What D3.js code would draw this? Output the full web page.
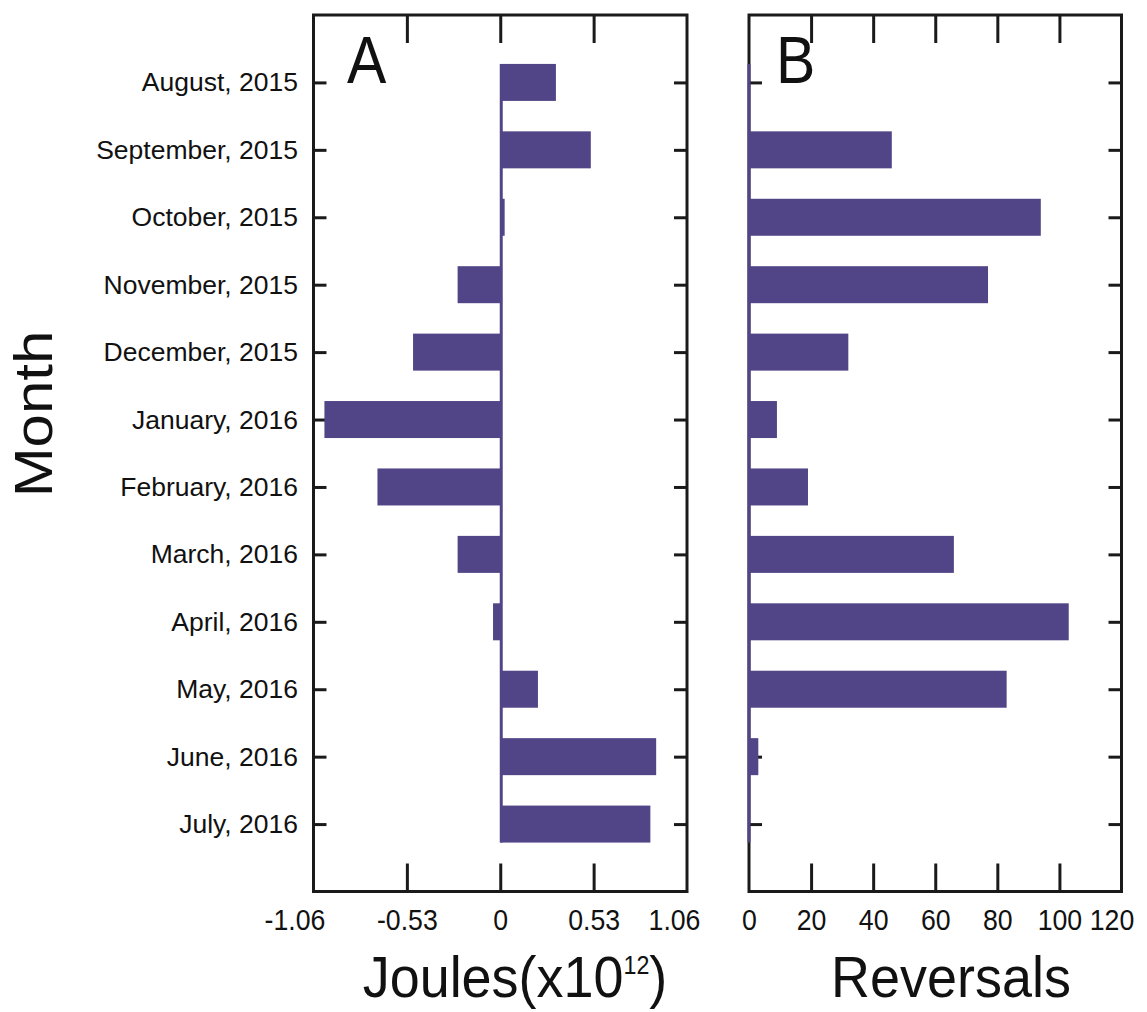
<!DOCTYPE html>
<html>
<head>
<meta charset="utf-8">
<script src="https://cdn.jsdelivr.net/npm/d3@7"></script>
<style>
  html, body { margin: 0; padding: 0; background: #ffffff; }
  svg { display: block; }
  text { font-family: "Liberation Sans", Arial, sans-serif; fill: #111; }
</style>
</head>
<body>
<script>
// ---- data ----
const months = ["August, 2015", "September, 2015", "October, 2015", "November, 2015",
  "December, 2015", "January, 2016", "February, 2016", "March, 2016",
  "April, 2016", "May, 2016", "June, 2016", "July, 2016"];
const joules = [0.316, 0.514, 0.025, -0.242, -0.495, -0.998, -0.697, -0.242, -0.041, 0.214, 0.885, 0.852];
const reversals = [0, 46, 94, 77, 32, 9, 19, 66, 103, 83, 3, 0];
const joulesTicks = [-1.06, -0.53, 0, 0.53, 1.06];
const joulesTickLabels = ["-1.06", "-0.53", "0", "0.53", "1.06"];
const reversalTicks = [0, 20, 40, 60, 80, 100, 120];

(function () {
const W = 1147, H = 1012;
const svg = d3.select("body").append("svg").attr("width", W).attr("height", H);

const yTop = 15, yBot = 891.5;
const barColor = "#524587";
const frameColor = "#1a1a1a";
const barH = 37;

const y = d3.scalePoint().domain(months).range([yTop, yBot]).padding(1);

function panel(cfg) {
  const g = svg.append("g");
  const x = cfg.x;
  const [x0, x1] = x.range();

  // inward ticks top / bottom
  const topAx = d3.axisTop(x).tickValues(cfg.innerTicks).tickSize(-28).tickFormat("");
  g.append("g").attr("transform", `translate(0,${yTop})`).call(topAx)
    .call(s => s.select(".domain").remove());
  const botAx = d3.axisBottom(x).tickValues(cfg.ticks).tickSize(-28).tickPadding(18)
    .tickFormat((d, i) => cfg.labels[i]);
  const bg = g.append("g").attr("transform", `translate(0,${yBot})`).call(botAx)
    .call(s => s.select(".domain").remove());
  bg.selectAll(".tick line")
    .attr("opacity", d => cfg.innerTicks.includes(d) ? 1 : 0);
  bg.selectAll(".tick text")
    .attr("font-size", 29)
    .attr("dx", d => cfg.nudge(d) / 0.92)
    .attr("transform", "scale(0.92,1)");

  // y ticks left / right
  const leftAx = d3.axisLeft(y).tickSize(-13).tickPadding(15.5);
  const lg = g.append("g").attr("transform", `translate(${x0},0)`).call(leftAx)
    .call(s => s.select(".domain").remove());
  if (cfg.showLabels) {
    lg.selectAll(".tick text").attr("font-size", 26.5);
  } else {
    lg.selectAll(".tick text").remove();
  }
  const rightAx = d3.axisRight(y).tickSize(-13).tickFormat("");
  g.append("g").attr("transform", `translate(${x1},0)`).call(rightAx)
    .call(s => s.select(".domain").remove());

  g.selectAll(".tick line").attr("stroke", frameColor).attr("stroke-width", 3);
  g.selectAll(".tick text").attr("fill", "#111")
    .attr("font-family", "Liberation Sans, Arial, sans-serif");

  // frame
  g.append("rect").attr("x", x0).attr("y", yTop).attr("width", x1 - x0).attr("height", yBot - yTop)
    .attr("fill", "none").attr("stroke", frameColor).attr("stroke-width", 3);

  // bars
  g.selectAll("rect.bar").data(cfg.values).enter().append("rect").attr("class", "bar")
    .attr("x", d => x(Math.min(0, d)))
    .attr("width", d => Math.abs(x(d) - x(0)))
    .attr("y", (d, i) => y(months[i]) - barH / 2)
    .attr("height", barH)
    .attr("fill", barColor);

  // zero stem line
  g.append("line")
    .attr("x1", x(0) + cfg.stemShift).attr("x2", x(0) + cfg.stemShift)
    .attr("y1", y(months[0]) - barH / 2).attr("y2", y(months[months.length - 1]) + barH / 2)
    .attr("stroke", barColor).attr("stroke-width", 3);

  // panel letter
  g.append("text")
    .attr("font-size", 67)
    .attr("transform", `translate(${cfg.letterX},83) scale(0.88,1)`)
    .text(cfg.letter);
  return g;
}

const xA = d3.scaleLinear().domain([-1.06, 1.06]).range([313.5, 687]);
panel({
  x: xA, ticks: joulesTicks, labels: joulesTickLabels, innerTicks: [-0.53, 0, 0.53],
  values: joules, showLabels: true, letter: "A", letterX: 347, stemShift: 1,
  nudge: d => d === -1.06 ? -19 : (d === 1.06 ? -13 : 0)
});

const xB = d3.scaleLinear().domain([0, 120]).range([749, 1121.5]);
panel({
  x: xB, ticks: reversalTicks, labels: reversalTicks.map(String), innerTicks: [20, 40, 60, 80, 100],
  values: reversals, showLabels: false, letter: "B", letterX: 776, stemShift: 0,
  nudge: d => d === 120 ? -10 : 0
});

// axis titles
const tJ = svg.append("text")
  .attr("text-anchor", "middle")
  .attr("font-size", 58)
  .attr("transform", "translate(515,997) scale(0.93,1)");
tJ.append("tspan").text("Joules(x10");
tJ.append("tspan").attr("font-size", 25).attr("dy", -23).text("12");
tJ.append("tspan").attr("dy", 23).text(")");

svg.append("text")
  .attr("text-anchor", "middle")
  .attr("font-size", 58)
  .attr("transform", "translate(951,997) scale(0.93,1)")
  .text("Reversals");

svg.append("text")
  .attr("text-anchor", "middle")
  .attr("font-size", 60)
  .attr("transform", "translate(52,414) scale(0.9,1) rotate(-90)")
  .text("Month");
})();
</script>
</body>
</html>
